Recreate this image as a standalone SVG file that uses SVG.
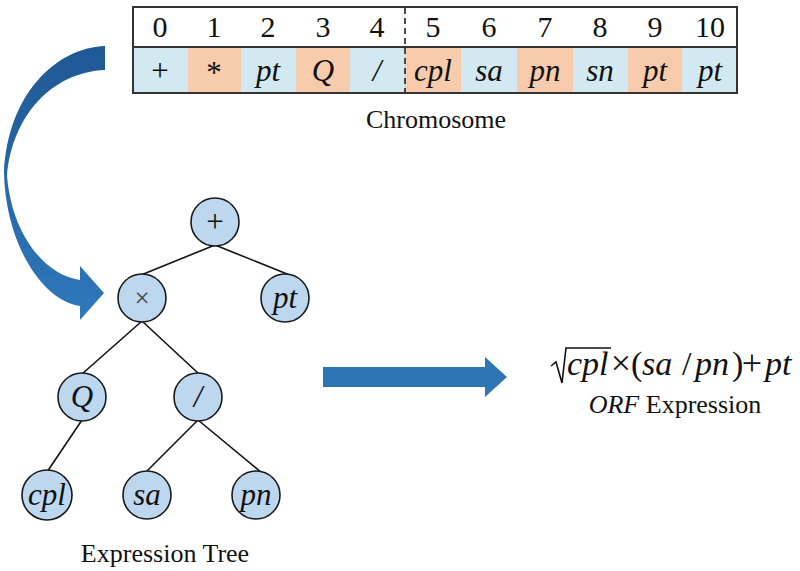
<svg xmlns="http://www.w3.org/2000/svg" width="800" height="571" viewBox="0 0 800 571">
<style>
  .t { font-family: "Liberation Serif", "Times New Roman", serif; fill: #111; }
  .i { font-style: italic; }
  .num { font-size: 30px; text-anchor: middle; }
  .cell { font-size: 31px; text-anchor: middle; }
  .cb { fill: #d2e9f1; }
  .co { fill: #f8cbad; }
  .node circle { fill: #bdd7ee; stroke: #1a1a1a; stroke-width: 1.6; }
  .node text { font-size: 31px; text-anchor: middle; }
  .edge { stroke: #111; stroke-width: 1.6; fill: none; }
  .lbl { font-size: 26px; text-anchor: middle; }
  .f { font-size: 34px; }
  .op { font-size: 36px; text-anchor: middle; }
</style>
<defs>
  <linearGradient id="cg" x1="0" y1="0" x2="0" y2="1">
    <stop offset="0" stop-color="#1f5894"/>
    <stop offset="1" stop-color="#2e78bb"/>
  </linearGradient>
</defs>

<!-- Chromosome table -->
<g id="chromosome">
  <rect x="133" y="47" width="55" height="46" class="cb"/>
  <rect x="188" y="47" width="53" height="46" class="co"/>
  <rect x="241" y="47" width="55" height="46" class="cb"/>
  <rect x="296" y="47" width="54" height="46" class="co"/>
  <rect x="350" y="47" width="55" height="46" class="cb"/>
  <rect x="405" y="47" width="56" height="46" class="co"/>
  <rect x="461" y="47" width="56" height="46" class="cb"/>
  <rect x="517" y="47" width="56" height="46" class="co"/>
  <rect x="573" y="47" width="55" height="46" class="cb"/>
  <rect x="628" y="47" width="54" height="46" class="co"/>
  <rect x="682" y="47" width="55" height="46" class="cb"/>
  <rect x="133" y="7" width="604" height="86" fill="none" stroke="#333" stroke-width="2"/>
  <line x1="133" y1="47" x2="737" y2="47" stroke="#333" stroke-width="2"/>
  <line x1="405" y1="8" x2="405" y2="92" stroke="#222" stroke-width="1.6" stroke-dasharray="6,4"/>
  <g class="t num">
    <text x="160" y="37">0</text>
    <text x="214" y="37">1</text>
    <text x="268" y="37">2</text>
    <text x="323" y="37">3</text>
    <text x="377" y="37">4</text>
    <text x="433" y="37">5</text>
    <text x="489" y="37">6</text>
    <text x="545" y="37">7</text>
    <text x="600" y="37">8</text>
    <text x="655" y="37">9</text>
    <text x="710" y="37">10</text>
  </g>
  <g class="t cell">
    <text x="160" y="81">+</text>
    <text x="214" y="83">*</text>
    <text x="268" y="81" class="i">pt</text>
    <text x="323" y="81" class="i">Q</text>
    <text x="377" y="81" class="i">/</text>
    <text x="433" y="81" class="i">cpl</text>
    <text x="489" y="81" class="i">sa</text>
    <text x="545" y="81" class="i">pn</text>
    <text x="600" y="81" class="i">sn</text>
    <text x="655" y="81" class="i">pt</text>
    <text x="710" y="81" class="i">pt</text>
  </g>
  <text x="436" y="128" class="t lbl">Chromosome</text>
</g>

<!-- Curved arrow -->
<g id="curved-arrow">
  <path d="M105,46 C55,48 8,95 4,172 C5,240 40,300 80,306 L80,320 L104,293 L80,266 L80,280 C45,275 12,235 7,176 C12,116 52,72 105,70 Z" fill="url(#cg)"/>
</g>

<!-- Connectors -->
<g id="connectors">
  <line class="edge" x1="215" y1="245" x2="141" y2="275"/>
  <line class="edge" x1="215" y1="245" x2="292" y2="276"/>
  <line class="edge" x1="142" y1="321" x2="82" y2="374"/>
  <line class="edge" x1="142" y1="321" x2="199" y2="374"/>
  <line class="edge" x1="82" y1="420" x2="47" y2="472"/>
  <line class="edge" x1="198" y1="420" x2="146" y2="472"/>
  <line class="edge" x1="198" y1="420" x2="262" y2="473"/>
</g>

<!-- Tree nodes -->
<g id="n-plus" class="node"><circle cx="215" cy="222" r="24"/><text x="215" y="232" class="t">+</text></g>
<g id="n-times" class="node"><circle cx="142" cy="298" r="24"/><text x="142" y="307" class="t" style="font-size:27px;fill:#444">×</text></g>
<g id="n-pt" class="node"><circle cx="285" cy="298" r="24"/><text x="285" y="308" class="t i">pt</text></g>
<g id="n-q" class="node"><circle cx="82" cy="397" r="24"/><text x="82" y="407" class="t i">Q</text></g>
<g id="n-div" class="node"><circle cx="198" cy="397" r="24"/><text x="198" y="407" class="t i">/</text></g>
<g id="n-cpl" class="node"><circle cx="47" cy="495" r="25"/><text x="47" y="505" class="t i">cpl</text></g>
<g id="n-sa" class="node"><circle cx="147" cy="495" r="24"/><text x="147" y="505" class="t i">sa</text></g>
<g id="n-pn" class="node"><circle cx="256" cy="495" r="24"/><text x="256" y="505" class="t i">pn</text></g>
<text x="165" y="562" class="t lbl">Expression Tree</text>

<!-- Right arrow -->
<g id="right-arrow">
  <path d="M323,367 L485,367 L485,357 L507,377 L485,397 L485,387 L323,387 Z" fill="#2e75b6"/>
</g>

<!-- Formula -->
<g id="formula">
  <path d="M551,366 L556,362 L562,383 L566,348 L611,348" fill="none" stroke="#111" stroke-width="1.6"/>
  <text x="567" y="375" class="t f i">cpl</text>
  <text x="621" y="375" class="t op">×</text>
  <text x="631" y="375" class="t f">(</text>
  <text x="642" y="375" class="t f i">sa</text>
  <text x="682" y="375" class="t f">/</text>
  <text x="695" y="375" class="t f i">pn</text>
  <text x="732" y="375" class="t f">)</text>
  <text x="752" y="375" class="t op">+</text>
  <text x="765" y="375" class="t f i">pt</text>
  <text x="675" y="413" class="t lbl"><tspan class="i">ORF</tspan> Expression</text>
</g>
</svg>
